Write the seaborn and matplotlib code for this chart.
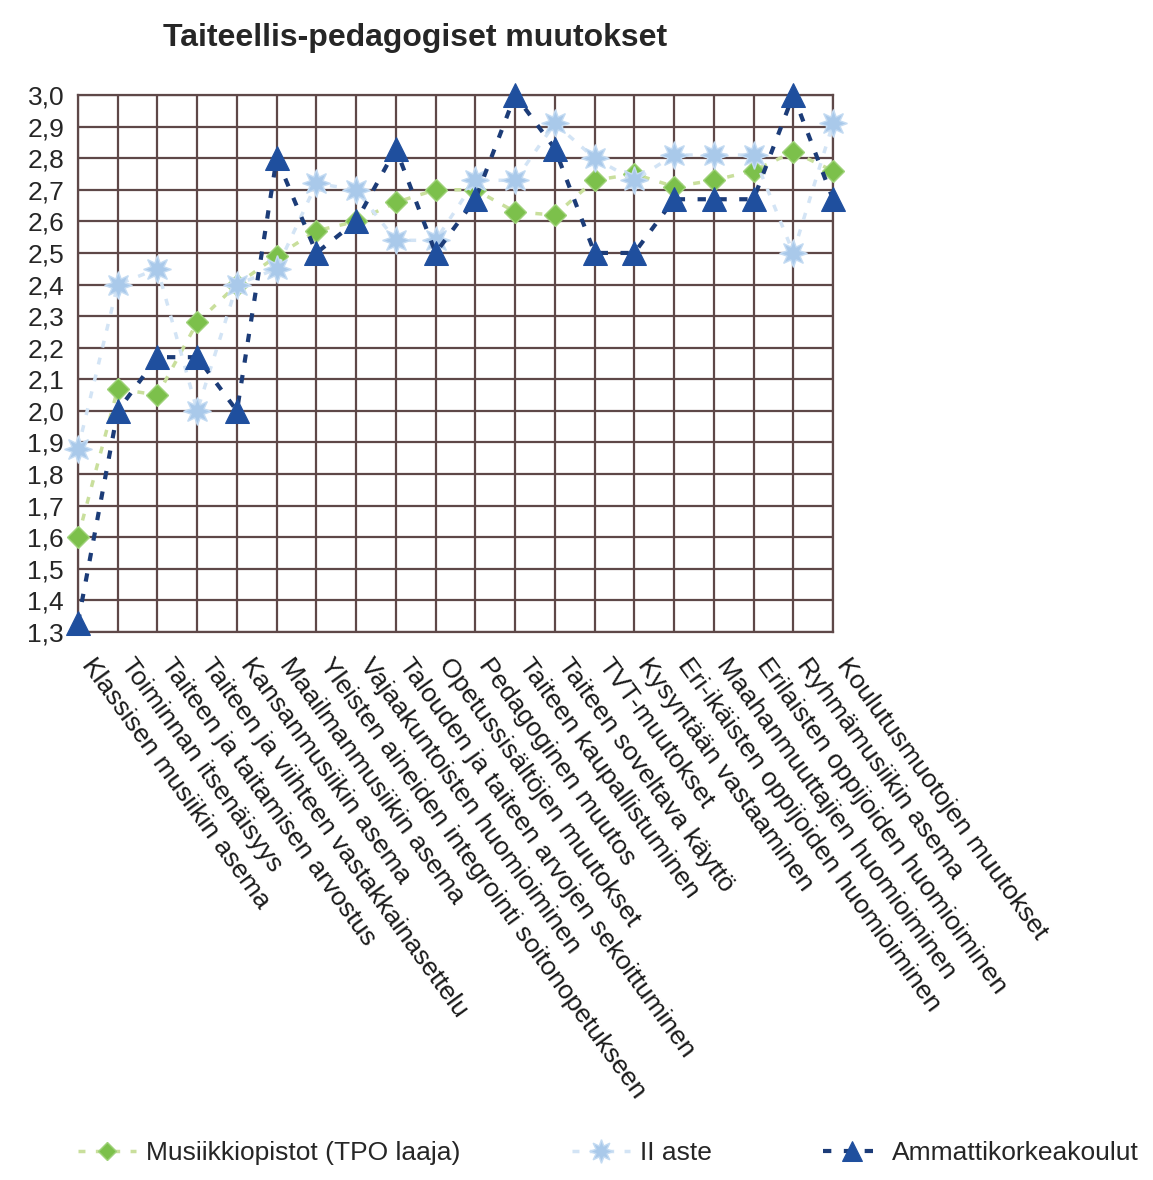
import matplotlib
matplotlib.use("Agg")
import matplotlib.pyplot as plt
import matplotlib.transforms as mtransforms
import seaborn as sns
from matplotlib.ticker import MultipleLocator, FuncFormatter

kategoriat = [
    "Klassisen musiikin asema",
    "Toiminnan itsenäisyys",
    "Taiteen ja taitamisen arvostus",
    "Taiteen ja viihteen vastakkainasettelu",
    "Kansanmusiikin asema",
    "Maailmanmusiikin asema",
    "Yleisten aineiden integrointi soitonopetukseen",
    "Vajaakuntoisten huomioiminen",
    "Talouden ja taiteen arvojen sekoittuminen",
    "Opetussisältöjen muutokset",
    "Pedagoginen muutos",
    "Taiteen kaupallistuminen",
    "Taiteen soveltava käyttö",
    "TVT-muutokset",
    "Kysyntään vastaaminen",
    "Eri-ikäisten oppijoiden huomioiminen",
    "Maahanmuuttajien huomioiminen",
    "Erilaisten oppijoiden huomioiminen",
    "Ryhmämusiikin asema",
    "Koulutusmuotojen muutokset",
]

musiikkiopistot = [1.60, 2.07, 2.05, 2.28, 2.40, 2.49, 2.57, 2.60, 2.66, 2.70,
                   2.70, 2.63, 2.62, 2.73, 2.75, 2.71, 2.73, 2.76, 2.82, 2.76]
ii_aste = [1.88, 2.40, 2.45, 2.00, 2.40, 2.45, 2.72, 2.70, 2.54, 2.54,
           2.73, 2.73, 2.91, 2.80, 2.73, 2.81, 2.81, 2.81, 2.50, 2.91]
amk = [1.33, 2.00, 2.17, 2.17, 2.00, 2.80, 2.50, 2.60, 2.83, 2.50,
       2.67, 3.00, 2.83, 2.50, 2.50, 2.67, 2.67, 2.67, 3.00, 2.67]

sarjat = ["Musiikkiopistot (TPO laaja)", "II aste", "Ammattikorkeakoulut"]

sns.set_style("white")
plt.rcParams["font.family"] = ["Liberation Sans", "DejaVu Sans"]

fig = plt.figure(figsize=(11.53, 11.8), dpi=100)
ax = fig.add_axes([78 / 1153, 1 - 632 / 1180, (833 - 78) / 1153, (632 - 95) / 1180])

grid_col = "#5e4848"

# viivat: vaalea vihreä pisteviiva, vaalea sininen, tummansininen katkoviiva
sns.lineplot(x=kategoriat, y=musiikkiopistot, ax=ax, color="#c9df9c", lw=2.5,
             linestyle=(0, (2, 3)), marker="D", markersize=11,
             markerfacecolor="#7cc04b", markeredgecolor="#9fd27a", markeredgewidth=1,
             label=sarjat[0], clip_on=False, zorder=3)
sns.lineplot(x=kategoriat, y=ii_aste, ax=ax, color="#d3e4f5", lw=2.5,
             linestyle=(0, (2, 3)), marker=(8, 1, 0), markersize=20,
             markerfacecolor="#a9c9ea", markeredgecolor="#c4dbf2", markeredgewidth=1,
             label=sarjat[1], clip_on=False, zorder=4)
sns.lineplot(x=kategoriat, y=amk, ax=ax, color="#1c3c78", lw=3,
             linestyle=(0, (2, 3)), marker="^", markersize=17,
             markerfacecolor="#1f4f9e", markeredgecolor="#1f4f9e",
             label=sarjat[2], clip_on=False, zorder=5)

ax.set_xlim(0, len(kategoriat) - 1)
ax.set_ylim(1.3, 3.0)
ax.yaxis.set_major_locator(MultipleLocator(0.1))
ax.yaxis.set_major_formatter(FuncFormatter(lambda v, p: f"{v:.1f}".replace(".", ",")))
ax.set_xticks(range(len(kategoriat)))
ax.set_xticklabels([])

# vinot kategorianimet omina teksteinään, jotta niitä voi siirtää
pohja = mtransforms.blended_transform_factory(ax.transData, ax.transAxes)
siirto = mtransforms.ScaledTranslation(18 / 100, -22 / 100, fig.dpi_scale_trans)
for i, nimi in enumerate(kategoriat):
    ax.text(i, 0, nimi, transform=pohja + siirto, rotation=-54, ha="left", va="top",
            rotation_mode="anchor", fontsize=19, color="#1a1a1a")

ax.tick_params(axis="y", labelsize=19, length=6, color=grid_col, direction="out", pad=4)
ax.tick_params(axis="x", length=6, color=grid_col, direction="out")
ax.grid(True, color=grid_col, lw=1.6)
for s in ax.spines.values():
    s.set_color(grid_col)
    s.set_linewidth(1.6)
ax.set_xlabel("")
ax.set_ylabel("")

ax.legend_.remove()
handles, labels = ax.get_legend_handles_labels()
fig.legend(handles, labels, loc="center left", bbox_to_anchor=(54 / 1153, 1 - 1153 / 1180),
           ncol=3, frameon=False, fontsize=19, handlelength=2.2, columnspacing=4.2,
           handletextpad=0.4, markerscale=0.85)

fig.text(415 / 1153, 1 - 38 / 1180, "Taiteellis-pedagogiset muutokset",
         ha="center", va="center", fontsize=23, fontweight="bold")

fig.savefig("out.png", dpi=100, facecolor="white")
plt.close(fig)
